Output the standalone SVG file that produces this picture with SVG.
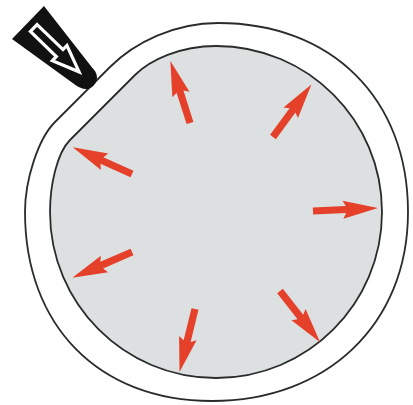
<svg xmlns="http://www.w3.org/2000/svg" width="413" height="405" viewBox="0 0 413 405">
  <style>
    .wall { stroke: #2a2c2c; stroke-width: 1.8; stroke-linejoin: round; }
    .skin { fill: #ffffff; }
    .core { fill: #dde0e1; }
    .push { fill: #e4402a; }
  </style>
  <defs>
    <!-- outward pressure arrow, tail at origin, pointing along +x -->
    <path id="push-arrow" d="M0,-3.6 L33,-3.6 L30,-9 L65,0 L30,9 L33,3.6 L0,3.6 Z"/>
  </defs>

  <rect width="413" height="405" fill="#ffffff"/>

  <!-- outer envelope with the flattened neck at the upper left -->
  <g id="envelope">
    <path class="wall skin" d="M218,23 C332,23 408,99 408,212 C408,325 326,401 212,401 C98,401 25,325 25,212 C25,180 38,139 55,122 L110,67 C135,42 175,23 218,23 Z"/>
  </g>

  <!-- pressurised interior -->
  <g id="interior">
    <path class="wall core" d="M216,46 C307.7,46 382,120.3 382,212 C382,303.7 307.7,378 216,378 C124.3,378 50,303.7 50,212 C50,185 57,153 70,140 L135,75 C150,60 180,46 216,46 Z"/>
  </g>

  <!-- filling valve -->
  <g id="valve" transform="translate(28,22.5) rotate(44)">
    <path fill="#111111" d="M0,-23 L0,23 L78,12 C84,11 91,8 91,0 C91,-9 84,-12 78,-12 Z"/>
    <path fill="#111111" stroke="#ffffff" stroke-width="3.2" stroke-linejoin="miter" d="M8,-4.8 L44,-4.8 L44,-10.5 L71,0 L44,10.5 L44,4.8 L8,4.8 Z"/>
  </g>

  <!-- pressure arrows -->
  <g id="arrows" class="push">
    <use href="#push-arrow" transform="translate(190,123) rotate(-107.6)"/>
    <use href="#push-arrow" transform="translate(273,137) rotate(-53.8)"/>
    <use href="#push-arrow" transform="translate(132,174) rotate(-155.8)"/>
    <use href="#push-arrow" transform="translate(132,252) rotate(156.6)"/>
    <use href="#push-arrow" transform="translate(195,309) rotate(103.8)"/>
    <use href="#push-arrow" transform="translate(280,291) rotate(51.9)"/>
    <use href="#push-arrow" transform="translate(313,211) rotate(-2.6)"/>
  </g>
</svg>
